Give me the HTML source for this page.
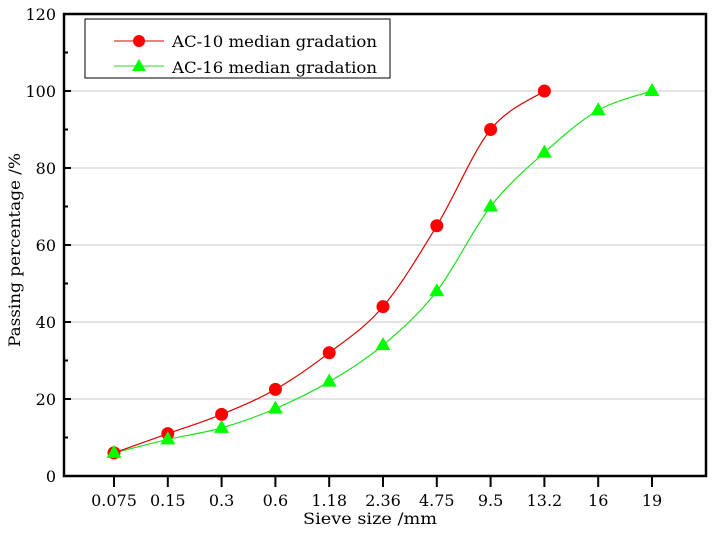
<!DOCTYPE html>
<html><head><meta charset="utf-8"><style>
body{margin:0;background:#fff}
text{font-family:"DejaVu Serif","Liberation Serif",serif;fill:#000}
</style></head><body>
<svg id="chart" width="715" height="533" xmlns="http://www.w3.org/2000/svg">
<g id="grid"></g><g id="axes"></g><g id="series"></g>
<g>
<rect x="85" y="19" width="305" height="59" fill="#fff" stroke="#000" stroke-width="1"/>
<line x1="114" y1="41" x2="164" y2="41" stroke="#e00000" stroke-width="1"/>
<circle cx="139" cy="41" r="6" fill="#ff0000"/>
<text x="172" y="47" font-size="16" textLength="205" lengthAdjust="spacingAndGlyphs">AC-10 median gradation</text>
<line x1="114" y1="66" x2="164" y2="66" stroke="#20e020" stroke-width="1"/>
<polygon points="139,59 146,71 132,71" fill="#00ff00"/>
<text x="172" y="73" font-size="16" textLength="205" lengthAdjust="spacingAndGlyphs">AC-16 median gradation</text>
</g>
<text x="303" y="524" font-size="16" textLength="134" lengthAdjust="spacingAndGlyphs">Sieve size /mm</text>
<text transform="translate(20,347) rotate(-90)" font-size="16" textLength="194" lengthAdjust="spacingAndGlyphs">Passing percentage /%</text>
</svg>
<script>
const categories=["0.075","0.15","0.3","0.6","1.18","2.36","4.75","9.5","13.2","16","19"];
const ac10=[6,11,16,22.5,32,44,65,90,100,null,null];
const ac16=[6,9.5,12.5,17.5,24.5,34,48,70,84,95,100];
const yTicks=[0,20,40,60,80,100,120];
const NS="http://www.w3.org/2000/svg";
const L=64,R=706,T=14,B=476;
const x=i=>114+i*53.8;
const y=v=>B-(v/120)*(B-T);
function mk(tag,attrs,parent){const e=document.createElementNS(NS,tag);for(const k in attrs)e.setAttribute(k,attrs[k]);document.getElementById(parent).appendChild(e);return e;}
yTicks.forEach(v=>{
 if(v>0&&v<120){const g=mk('line',{x1:L,x2:R,y1:y(v),y2:y(v),stroke:'#c8c8c8','stroke-width':1},'grid');
 
 }
 const t=mk('line',{x1:L,x2:L+7,y1:y(v),y2:y(v),stroke:'#000','stroke-width':2},'axes');
 
 
 const m=mk('line',{x1:L,x2:L+4,y1:y(v+10),y2:y(v+10),stroke:'#000','stroke-width':2},'axes');
 
 
 const tx=mk('text',{x:L-8,y:y(v)+6,'font-size':16,'text-anchor':'end'},'axes');tx.textContent=v;
 
 
});
const fr=mk('rect',{x:L,y:T,width:R-L,height:B-T,fill:'none',stroke:'#000','stroke-width':2.5},'axes');


categories.forEach((c,i)=>{
 const t=mk('line',{x1:x(i),x2:x(i),y1:B,y2:B+11,stroke:'#000','stroke-width':2},'axes');
 
 
 const tx=mk('text',{x:x(i),y:B+30,'font-size':16,'text-anchor':'middle'},'axes');tx.textContent=c;
 
 
});
function path(vals){const p=[];vals.forEach((v,i)=>{if(v!==null)p.push([x(i),y(v)]);});
 let d='M'+p[0][0]+','+p[0][1];
 for(let i=0;i<p.length-1;i++){const p0=p[i-1]||p[i],p1=p[i],p2=p[i+1],p3=p[i+2]||p2;
  d+=` C${p1[0]+(p2[0]-p0[0])/6},${p1[1]+(p2[1]-p0[1])/6} ${p2[0]-(p3[0]-p1[0])/6},${p2[1]-(p3[1]-p1[1])/6} ${p2[0]},${p2[1]}`;}
 return d;}
const l16=mk('path',{d:path(ac16),fill:'none',stroke:'#20e020','stroke-width':1.2},'series');


const l10=mk('path',{d:path(ac10),fill:'none',stroke:'#e00000','stroke-width':1.2},'series');


ac10.forEach((v,i)=>{if(v===null)return;
 const c=mk('circle',{cx:x(i),cy:y(v),r:6.5,fill:'#ff0000'},'series');
 
 });
ac16.forEach((v,i)=>{if(v===null)return;const cx=x(i),cy=y(v);
 const p=mk('polygon',{points:`${cx},${cy-8} ${cx+7.5},${cy+5} ${cx-7.5},${cy+5}`,fill:'#00ff00'},'series');
 
 });
</script>
</body></html>
